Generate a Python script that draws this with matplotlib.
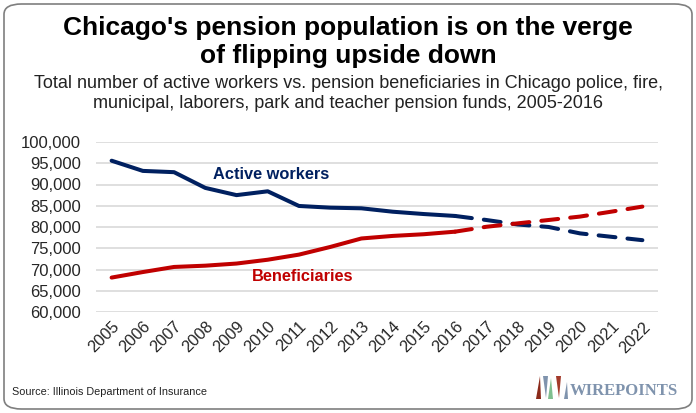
import matplotlib.pyplot as plt
from matplotlib.patches import FancyBboxPatch, Polygon
from matplotlib.ticker import FuncFormatter

plt.rcParams['font.family'] = ['Liberation Sans', 'DejaVu Sans']

years = [str(y) for y in range(2005, 2023)]
active = [95600, 93200, 92900, 89200, 87500, 88400, 84950, 84550, 84400,
          83600, 83050, 82600]
active_proj = [82600, 81650, 80600, 80000, 78500, 77700, 76900]
benef = [68100, 69400, 70600, 70900, 71400, 72300, 73500, 75300, 77300,
         77900, 78300, 78900]
benef_proj = [78900, 80050, 80850, 81650, 82450, 83600, 84800]

blue = '#002060'
red = '#c00000'

fig = plt.figure(figsize=(6.96, 4.13), dpi=100)

# rounded frame around everything
frame = FancyBboxPatch((4 / 696, 4 / 413), 688 / 696, 405 / 413,
                       boxstyle='round,pad=0,rounding_size=0.025',
                       transform=fig.transFigure, facecolor='none',
                       edgecolor='#7f7f7f', linewidth=1.2)
fig.patches.append(frame)

ax = fig.add_axes([96 / 696, 1 - 312 / 413, 562 / 696, 170 / 413])
ax.set_facecolor('none')
x_hist = list(range(len(active)))
x_proj = list(range(len(active) - 1, len(years)))
ax.plot(x_hist, active, color=blue, lw=2.9, solid_capstyle='round')
ax.plot(x_hist, benef, color=red, lw=2.9, solid_capstyle='round')
ax.plot(x_proj, active_proj, color=blue, lw=2.9, dashes=(4.2, 3),
        dash_capstyle='round')
ax.plot(x_proj, benef_proj, color=red, lw=2.9, dashes=(4.2, 3),
        dash_capstyle='round')

ax.set_xlim(-0.5, len(years) - 0.5)
ax.set_ylim(60000, 100000)
ax.set_yticks(range(60000, 100001, 5000))
ax.yaxis.set_major_formatter(FuncFormatter(lambda v, p: f'{int(v):,}'))
ax.set_xticks(range(len(years)))
ax.set_xticklabels(years, rotation=45, ha='right', va='top',
                   rotation_mode='anchor')
ax.tick_params(axis='both', length=0, labelsize=12, colors='#262626')
ax.tick_params(axis='x', labelsize=11.8, pad=5)
ax.tick_params(axis='y', pad=11)
ax.grid(axis='y', color='#d9d9d9', lw=1.2)
ax.set_axisbelow(True)
for s in ax.spines.values():
    s.set_visible(False)

ax.text(3.25, 92300, 'Active workers', color=blue, fontsize=11.8,
        fontweight='bold', ha='left', va='center')
ax.text(4.5, 68300, 'Beneficiaries', color=red, fontsize=11.8,
        fontweight='bold', ha='left', va='center')

fig.text(0.5, 1 - 28 / 413, "Chicago's pension population is on the verge",
         ha='center', va='center', fontsize=19, fontweight='bold')
fig.text(0.5, 1 - 56 / 413, 'of flipping upside down',
         ha='center', va='center', fontsize=19, fontweight='bold')
fig.text(0.5, 1 - 84 / 413,
         'Total number of active workers vs. pension beneficiaries in Chicago police, fire,',
         ha='center', va='center', fontsize=13, color='#222222')
fig.text(0.5, 1 - 104 / 413,
         'municipal, laborers, park and teacher pension funds, 2005-2016',
         ha='center', va='center', fontsize=13, color='#222222')

fig.text(12 / 696, 1 - 392 / 413, 'Source: Illinois Department of Insurance',
         ha='left', va='center', fontsize=7.8, color='#222222')

# wirepoints logo
wedges = [
    ((536, 399), (541, 399), (540, 376), '#8b2a1a'),
    ((543, 376), (548, 376), (546, 398), '#7f93ad'),
    ((548, 399), (553, 399), (551, 378), '#7fbf8f'),
    ((556, 376), (561, 376), (559, 398), '#a33a2a'),
    ((564, 399), (568, 399), (567, 382), '#7f93ad'),
]
for a, b, c, col in wedges:
    fig.patches.append(Polygon([(a[0] / 696, 1 - a[1] / 413),
                                (b[0] / 696, 1 - b[1] / 413),
                                (c[0] / 696, 1 - c[1] / 413)],
                               closed=True, transform=fig.transFigure,
                               facecolor=col, edgecolor='none'))
fig.text(570 / 696, 1 - 391 / 413, 'WIREPOINTS', ha='left', va='center',
         fontsize=12, fontweight='bold', family='Liberation Serif',
         color='#7f93ad')

fig.savefig('out.png', dpi=100)
